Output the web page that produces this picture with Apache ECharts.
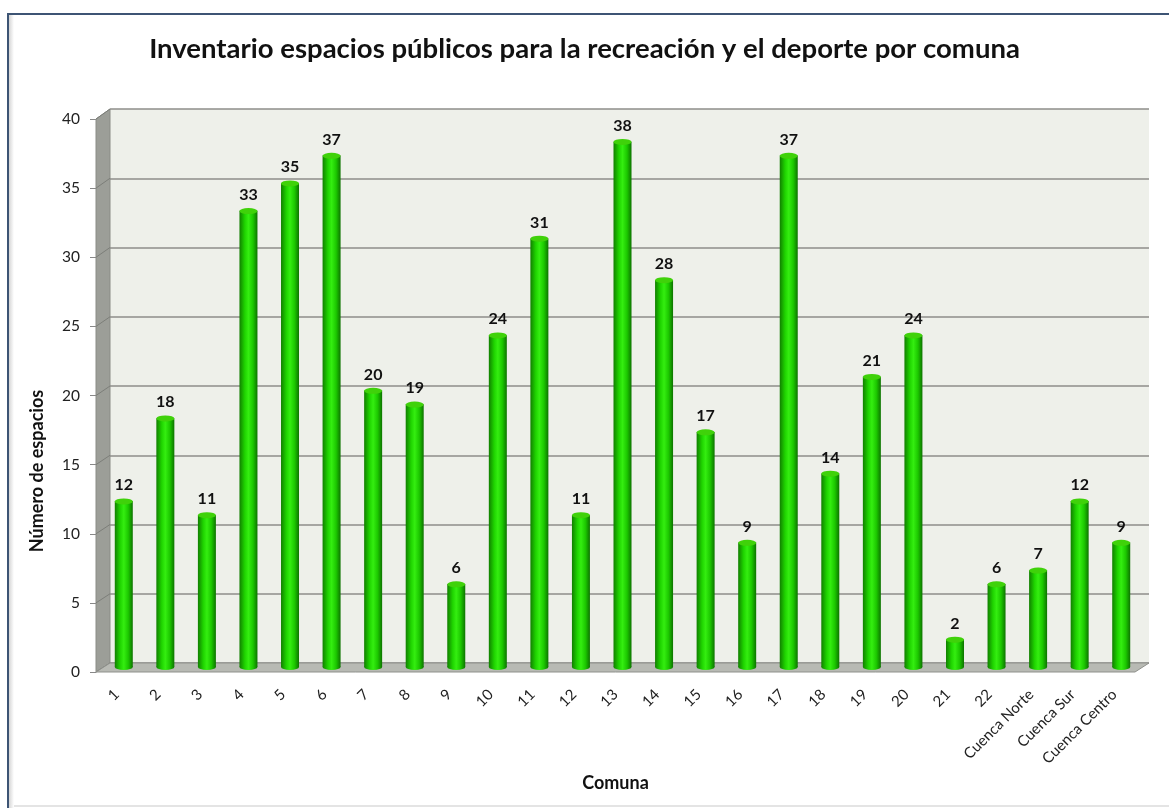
<!DOCTYPE html>
<html><head><meta charset="utf-8">
<script src="https://cdn.jsdelivr.net/npm/echarts@6/dist/echarts.min.js"></script>
<style>html,body{margin:0;padding:0;background:#fff}#c{width:1169px;height:808px}</style>
</head><body><div id="c"></div>
<script>
const categories = ['1','2','3','4','5','6','7','8','9','10','11','12','13','14','15','16','17','18','19','20','21','22','Cuenca Norte','Cuenca Sur','Cuenca Centro'];
const values = [12,18,11,33,35,37,20,19,6,24,31,11,38,28,17,9,37,14,21,24,2,6,7,12,9];
const yMin = 0, yMax = 40, yInterval = 5;
const titleText = 'Inventario espacios públicos para la recreación y el deporte por comuna';
const xName = 'Comuna';
const yName = 'Número de espacios';

const FONT = 'Lato';
// layout of the pseudo-3D box
const FRONT = {left: 96, right: 34, top: 119, bottom: 136};
const MID = {left: 103, right: 27, top: 114, bottom: 141};
const BACK = {left: 110, right: 20, top: 109, bottom: 145};
const W = 1169, H = 808;

const barGrad = new echarts.graphic.LinearGradient(0, 0, 1, 0, [
  {offset: 0, color: '#117f00'},
  {offset: 0.3, color: '#1fd400'},
  {offset: 0.5, color: '#34ee10'},
  {offset: 0.75, color: '#1cc800'},
  {offset: 1, color: '#0d7300'}
]);

const chart = echarts.init(document.getElementById('c'), null, {renderer: 'canvas'});
const option = {
  backgroundColor: '#fff',
  animation: false,
  title: {
    text: titleText, left: 'center', top: 30,
    textStyle: {fontFamily: FONT, fontWeight: 'bold', fontSize: 27.5, color: '#111'}
  },
  grid: [
    Object.assign({show: false}, FRONT),
    Object.assign({show: false}, MID),
    Object.assign({show: true, backgroundColor: '#eef0ea', borderWidth: 0}, BACK)
  ],
  xAxis: [
    {type: 'category', gridIndex: 0, data: categories,
     axisLine: {show: false}, axisTick: {show: false},
     axisLabel: {rotate: 45, interval: 0, margin: 20, fontFamily: FONT, fontSize: 15, color: '#222'},
     name: xName, nameLocation: 'middle', nameGap: 101,
     nameTextStyle: {fontFamily: FONT, fontWeight: 'bold', fontSize: 18, color: '#111'}},
    {type: 'category', gridIndex: 1, data: categories, show: false},
    {type: 'category', gridIndex: 2, data: categories, show: false}
  ],
  yAxis: [
    {type: 'value', gridIndex: 0, min: yMin, max: yMax, interval: yInterval,
     axisLine: {show: false}, axisTick: {show: true, length: 6, lineStyle: {color: '#888'}},
     splitLine: {show: false},
     axisLabel: {margin: 16, fontFamily: FONT, fontSize: 15.5, color: '#222'}},
    {type: 'value', gridIndex: 1, min: yMin, max: yMax, interval: yInterval, show: false},
    {type: 'value', gridIndex: 2, min: yMin, max: yMax, interval: yInterval,
     axisLine: {show: false}, axisTick: {show: false}, axisLabel: {show: false},
     splitLine: {show: true, lineStyle: {color: '#8e8e8a', width: 1.5}}}
  ],
  series: [
    {type: 'pictorialBar', xAxisIndex: 1, yAxisIndex: 1, data: values,
     symbol: 'circle', symbolSize: [18, 6], symbolOffset: [0, '50%'], symbolPosition: 'start',
     itemStyle: {color: barGrad}, z: 3},
    {type: 'bar', xAxisIndex: 1, yAxisIndex: 1, data: values, barWidth: 18,
     itemStyle: {color: barGrad},
     label: {show: true, position: 'top', distance: 8, fontFamily: FONT, fontWeight: 'bold', fontSize: 16, color: '#111'},
     z: 4},
    {type: 'pictorialBar', xAxisIndex: 1, yAxisIndex: 1, data: values,
     symbol: 'circle', symbolSize: [18, 6], symbolOffset: [0, '-50%'], symbolPosition: 'end',
     itemStyle: {color: '#3fd20a', borderColor: '#7a7d28', borderWidth: 1}, z: 5}
  ]
};
chart.setOption(option);

// walls of the box, positioned through the axes
const yF = v => chart.convertToPixel({gridIndex: 0}, [0, v])[1];
const yB = v => chart.convertToPixel({gridIndex: 2}, [0, v])[1];
const L0 = FRONT.left, L2 = BACK.left, R0 = W - FRONT.right, R2 = W - BACK.right;
const els = [];
els.push({type: 'polygon', z: 1, shape: {points: [[L0, yF(yMax)], [L2, yB(yMax)], [L2, yB(yMin)], [L0, yF(yMin)]]},
  style: {fill: '#9c9e98', stroke: '#8a8c86', lineWidth: 1}});
for (let v = yMin; v <= yMax; v += yInterval) {
  els.push({type: 'line', z: 1, shape: {x1: L0, y1: yF(v), x2: L2, y2: yB(v)}, style: {stroke: '#7c7e79', lineWidth: 1}});
}
els.push({type: 'polygon', z: 1, shape: {points: [[L0, yF(yMin)], [L2, yB(yMin)], [R2, yB(yMin)], [R0, yF(yMin)]]},
  style: {fill: '#b8bab4', stroke: '#8f918c', lineWidth: 1}});
// y axis title (placed as in the original, below axis middle)
els.push({type: 'text', z: 2, x: 37, y: 471, rotation: Math.PI / 2,
  style: {text: yName, align: 'center', verticalAlign: 'middle', fontFamily: FONT, fontWeight: 'bold', fontSize: 18, fill: '#111'}});
// chart frame
els.push({type: 'rect', z: 0, shape: {x: 9, y: 15, width: 5, height: H - 15}, style: {fill: new echarts.graphic.LinearGradient(0,0,1,0,[{offset:0,color:'#d6d6d6'},{offset:1,color:'#ffffff'}])}});
els.push({type: 'line', z: 0, shape: {x1: 14, y1: H - 2, x2: W, y2: H - 2}, style: {stroke: '#e4e4e4', lineWidth: 2}});
els.push({type: 'polyline', z: 0, shape: {points: [[8, H], [8, 14], [W + 5, 14]]}, style: {stroke: '#3d5474', lineWidth: 2, fill: null}});
chart.setOption({graphic: {elements: els}});
</script>
</body></html>
